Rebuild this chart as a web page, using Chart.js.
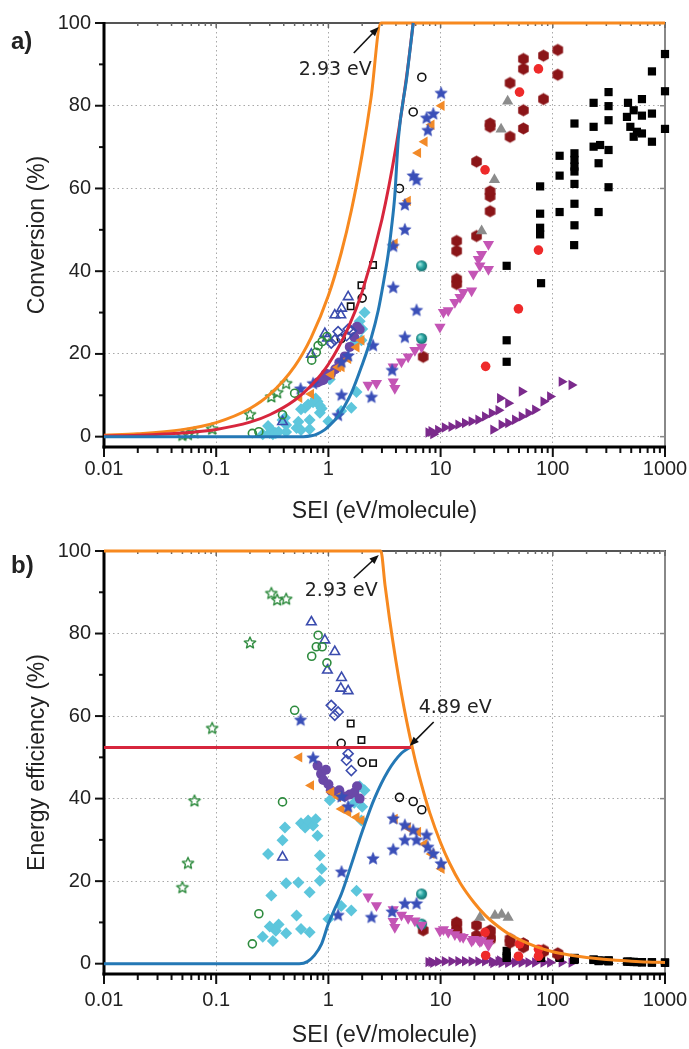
<!DOCTYPE html>
<html><head><meta charset="utf-8">
<script src="https://cdn.jsdelivr.net/npm/chart.js@4.4.1/dist/chart.umd.min.js"></script>
<style>
body{margin:0;background:#fff;width:689px;height:1049px;overflow:hidden;position:relative}
canvas{position:absolute;left:0}
#c1{top:0}#c2{top:530px}
</style></head><body>
<canvas id="c1" width="689" height="530"></canvas>
<canvas id="c2" width="689" height="519"></canvas>
<script>
// ---------- axes ----------
const xTicks = [0.01, 0.1, 1, 10, 100, 1000];
const xTickLabels = ['0.01', '0.1', '1', '10', '100', '1000'];
const yTicks = [0, 20, 40, 60, 80, 100];
const xTitle = 'SEI (eV/molecule)';
const yTitleTop = 'Conversion (%)';
const yTitleBottom = 'Energy efficiency (%)';

// ---------- theoretical curves ----------
const orangeConvSEI = [0.01,0.02,0.05,0.1,0.2,0.3,0.5,0.7,1,1.3,1.6,2,2.4,2.93,1000];
const orangeConv    = [0.34,0.68,1.7,3.4,6.8,10.2,17,23.9,34.1,44.4,54.6,68.3,81.9,100,100];
const redConvSEI    = [0.01,0.02,0.05,0.1,0.2,0.3,0.5,0.7,1,1.5,2,3,4,5,5.7];
const redConv       = [0.18,0.35,0.88,1.75,3.5,5.3,8.8,12.3,17.5,26.3,35,52.5,70,87.5,100];
const blueConvSEI   = [0.01,0.3,0.6,0.705,0.8,0.93,1.05,1.22,1.4,1.6,1.97,2.42,2.78,3.08,3.41,3.65,3.9,4.2,5.0,5.7];
const blueConv      = [0,0,0,0.2,0.7,1.7,3,4.9,7.5,10.5,16.9,24.1,30.5,36.9,44.1,50.5,58,72,87,100];

const orangeEffSEI  = [0.01,2.93,3.2,3.5,4,4.5,5,5.5,6,7,8,10,12,15,20,25,30,40,50,70,100,150,200,300,500,700,1000];
const orangeEff     = [100,100,91.6,83.7,73.3,65.1,58.6,53.3,48.8,41.9,36.6,29.3,24.4,19.5,14.7,11.7,9.8,7.3,5.9,4.2,2.9,2,1.5,1,0.6,0.4,0.3];
const redEffSEI     = [0.01,5.5];
const redEff        = [52.4,52.4];
const blueEffSEI    = [0.01,0.3,0.55,0.65,0.75,0.87,1,1.15,1.31,1.6,1.97,2.57,3.4,4.47,5.3];
const blueEff       = [0,0,0,0.5,2,4.8,9.7,13.5,17,24,31.5,40,46.7,51,52.4];

// ---------- experimental data ----------
const greenStarSEI  = [0.05,0.056,0.064,0.092,0.2,0.31,0.35,0.42];
const greenStarConv = [0.3,0.5,0.9,1.8,5.3,9.6,10.6,12.8];
const greenStarEff  = [18.4,24.3,39.4,57,77.7,89.7,88.1,88.3];

const greenCircSEI  = [0.21,0.24,0.39,0.5,0.71,0.78,0.81,0.88,0.97];
const greenCircConv = [0.8,1.2,5.3,10.5,18.5,20.4,22,23,24.2];
const greenCircEff  = [4.8,12.1,39.2,61.4,74.5,76.8,79.6,76.8,72.9];

const navyTriSEI  = [0.39,0.705,0.93,0.98,1.14,1.31,1.29,1.5];
const navyTriConv = [3.6,19.9,24.9,23.8,29.4,31,29.4,33.8];
const navyTriEff  = [25.8,82.8,78.4,71.1,75.6,69.3,66.7,66.1];

const navyDiaSEI  = [1.06,1.14,1.22,1.45,1.5,1.6];
const navyDiaConv = [22.6,23.4,25.4,24.4,26,25.6];
const navyDiaEff  = [62.6,60.2,61,49.3,50.9,46.8];

const blackCircSEI  = [1.3,2.0,4.3,5.7,6.8];
const blackCircConv = [23.7,33.5,60,78.5,86.9];
const blackCircEff  = [53.4,48.8,40.3,39.3,37.3];

const blackOpenSqSEI  = [1.58,1.97,2.5];
const blackOpenSqConv = [31.5,36.6,41.5];
const blackOpenSqEff  = [58.2,54.2,48.6];

const cyanSEI  = [0.26,0.29,0.3,0.31,0.32,0.34,0.36,0.39,0.41,0.42,0.42,0.52,0.54,0.57,0.57,0.62,0.66,0.68,0.68,0.73,0.77,0.8,0.84,0.84,0.87,1.0,1.03,1.3,1.6,1.7,1.78,1.9,1.97,2.0,2.1];
const cyanConv = [0.6,2.6,0.9,1.7,0.6,0.9,1.2,4.0,4.6,2.8,1.1,2.1,3.6,6.6,1.6,7.0,7.8,4.0,1.8,8.3,9.2,8.5,5.8,7.5,6.8,3.7,13.9,6.2,7.0,22.6,10.8,27.9,23.3,26,30];
const cyanEff  = [6.5,26.6,9,16.5,5.5,8,9.5,29.9,33,19.5,7.4,11.7,19.7,34,8.4,33,34.7,17.3,7.6,33.5,35,31,20.1,26.2,23,10.8,39.6,14,12.9,39,17.7,43,34.7,38,42];

const starSEI  = [0.565,0.73,1.22,1.31,1.31,1.5,2.42,2.5,3.7,3.78,3.78,4.8,6.1,4.8,4.8,5.7,6.1,7.5,7.7,8.6,10.1];
const starConv = [11.5,12.8,5.1,10,18,19.5,9.5,22,16,36,46,24,30.5,50,56,63,62,77,74,78,83];
const starEff  = [59,49.8,11.7,22.2,40.4,38,11.2,25.4,12.5,27.6,35.1,14.5,14.5,29.9,33.5,32.3,29.9,31.1,28.2,26.6,24.2];

const orangeTriSEI  = [0.55,0.7,1.06,1.22,1.31,1.5,1.78,1.97,3.9,5.1,6.3,7.2,8.3,10.2];
const orangeTriConv = [9.4,10.3,15,16.8,16.8,18.8,21.6,23.3,46.7,57,68.6,71.3,75.4,80];
const orangeTriEff  = [50,43.2,41.6,40.4,37.5,36.7,35.5,34.7,35.1,33,31.9,29,26.6,23];

const purpleCircSEI  = [0.8,0.86,0.9,0.95,1.0,1.05,1.15,1.25,1.4,1.55,1.7,1.9,1.8];
const purpleCircConv = [13.1,13.5,13.7,15.2,14.8,15.1,16.3,17.9,19.4,21.7,24.1,25.9,26.6];
const purpleCircEff  = [48,46,44.5,47,43.5,42,41.5,42,40.5,41,41.5,40,43];

const magentaSEI  = [2.26,2.68,3.78,3.91,3.78,4.48,5.14,5.9,6.77,9.87,10.6,11.7,13.4,14.9,15.9,18.9,19.6,22.4,26.7,21.7,26.7,23.2];
const magentaConv = [12.5,12.9,13.3,11.7,16.9,18.1,19.3,20.9,21.7,26.5,30.1,30.5,32.5,33.7,34.9,35.3,39.3,41.3,40.5,42.9,46.5,44.1];
const magentaEff  = [16.2,14.1,10.3,8.8,13.1,11.8,11,10.4,9.4,7.9,8.3,7.6,7.1,6.6,6.4,5.5,5.9,5.4,4.4,5.8,5.1,5.6];

const tealSEI  = [6.77,6.77];
const tealConv = [41.3,23.7];
const tealEff  = [16.9,9.6];

const darkRedSEI  = [7.0,13.9,13.9,13.9,13.9,20.9,20.9,27.6,27.6,27.6,27.6,27.6,41.6,41.6,54.7,54.7,54.7,54.7,82.6,82.6,110.8,110.8];
const darkRedConv = [19.3,47.3,44.9,38.1,36.9,48.5,66.5,54.5,58.1,59.3,75.7,74.9,72.5,85.5,74.5,78.9,88.9,91.3,81.6,92.1,87.5,93.5];
const darkRedEff  = [8.1,10,9.5,8,7.8,6.8,9.3,5.8,6.2,6.3,8,7.9,5.1,6,4,4.2,4.8,4.9,2.9,3.3,2.3,2.5];

const redDotSEI  = [24.9,25.2,49.4,50.5,74.5,74.5];
const redDotConv = [64.5,17,30.9,83.3,88.9,45.1];
const redDotEff  = [7.6,2.0,1.8,4.8,3.5,1.8];

const grayTriSEI     = [23.2,30.2,34.6,39.6];
const grayTriConv    = [49.7,62.1,74.3,81.1];
const grayTriEffSEI  = [22.4,30.5,35,40];
const grayTriEff     = [11.2,11.7,11.9,11.2];

const blackSqSEI  = [38.8,38.8,38.8,77.1,77.1,77.1,77.1,78.6,115,115,115,156,156,156,156,156,156,156,156,155,231,231,231,256,256,264,314,314,314,314,314,458,468,491,526,526,562,623,623,623,765,765,765,1000,1000,1000];
const blackSqConv = [41.3,23.3,18.1,60.5,53.9,50.5,48.9,37.1,67.9,63.1,54.3,75.7,68.5,66.9,65.3,64.1,61.1,56.3,51.1,46.3,80.7,74.9,70.1,66.1,54.3,70.5,83.3,79.9,76.5,69.3,60.3,77.3,80.7,74.9,78.9,72.5,73.7,81.6,77.6,73.3,88.3,78.1,71.3,92.5,83.5,74.4];
const blackSqEff  = [3.1,1.8,1.4,2.3,2.0,1.9,1.9,1.4,1.7,1.6,1.4,1.4,1.3,1.3,1.2,1.2,1.1,1.1,1.0,0.9,1.0,0.95,0.9,0.76,0.62,0.78,0.78,0.75,0.71,0.65,0.56,0.49,0.51,0.45,0.44,0.4,0.38,0.38,0.36,0.34,0.34,0.3,0.27,0.27,0.24,0.22];

const purpleTriSEI  = [7.8,8.3,8.6,9.5,10.9,12.5,14.4,16.5,18.9,21.7,24.9,28.6,32.8,33.9,40.1,52.9,29.5,35,40.1,46.1,52.9,60.7,69.6,82.6,94.6,120,147];
const purpleTriConv = [1.0,1.3,0.6,1.6,2.2,2.4,2.9,3.3,3.7,4.1,4.9,5.7,6.4,9.3,8.1,10.9,1.7,2.9,3.3,4.1,4.9,5.7,6.5,8.5,9.7,13.3,12.5];
const purpleTriEff  = [0.38,0.46,0.2,0.49,0.59,0.56,0.59,0.59,0.57,0.55,0.58,0.58,0.57,0.8,0.59,0.6,0.17,0.24,0.24,0.26,0.27,0.28,0.27,0.3,0.3,0.32,0.25];

// ---------- styling helpers ----------
Chart.defaults.font.family = '"Liberation Sans", Arial, sans-serif';
Chart.defaults.color = '#222';

function polyCanvas(n, r, inner, fill, stroke, lw, rot) {
  const s = Math.ceil(2 * r + lw + 2);
  const c = document.createElement('canvas'); c.width = c.height = s;
  const g = c.getContext('2d'); g.translate(s / 2, s / 2); g.beginPath();
  const m = inner ? 2 * n : n;
  for (let i = 0; i < m; i++) {
    const rr = inner && i % 2 ? r * inner : r;
    const a = rot + i * 2 * Math.PI / m;
    g.lineTo(rr * Math.cos(a), rr * Math.sin(a));
  }
  g.closePath();
  if (fill) { g.fillStyle = fill; g.fill(); }
  if (stroke) { g.strokeStyle = stroke; g.lineWidth = lw; g.lineJoin = 'round'; g.stroke(); }
  return c;
}
function sphereCanvas(r) {
  const s = Math.ceil(2 * r + 2);
  const c = document.createElement('canvas'); c.width = c.height = s;
  const g = c.getContext('2d');
  const gr = g.createRadialGradient(s/2 - r*0.35, s/2 - r*0.35, r*0.1, s/2, s/2, r);
  gr.addColorStop(0, '#9fe6e0'); gr.addColorStop(0.5, '#2aa5a2'); gr.addColorStop(1, '#14706f');
  g.fillStyle = gr; g.beginPath(); g.arc(s/2, s/2, r, 0, Math.PI*2); g.fill();
  return c;
}
const openStar  = polyCanvas(5, 6, 0.45, null, '#2e8b3e', 1.4, -Math.PI/2);
const fillStar  = polyCanvas(5, 6.5, 0.45, '#3a4fb8', '#3a4fb8', 0.6, -Math.PI/2);
const hexagon   = polyCanvas(6, 5.8, 0, '#8b1518', '#8b1518', 0.5, Math.PI/2);
const sphere    = sphereCanvas(5.5);

const TR = 'rgba(0,0,0,0)';
const styles = {
  greenStar:  {pointStyle: openStar, pointRadius: 6},
  greenCirc:  {pointStyle: 'circle', pointRadius: 4, backgroundColor: TR, borderColor: '#2e8b3e', borderWidth: 1.6},
  navyTri:    {pointStyle: 'triangle', pointRadius: 5.5, backgroundColor: TR, borderColor: '#3b4cae', borderWidth: 1.6},
  navyDia:    {pointStyle: 'rectRot', pointRadius: 5, backgroundColor: TR, borderColor: '#3b4cae', borderWidth: 1.6},
  blackCirc:  {pointStyle: 'circle', pointRadius: 4, backgroundColor: TR, borderColor: '#111', borderWidth: 1.6},
  blackOpenSq:{pointStyle: 'rect', pointRadius: 4.5, backgroundColor: TR, borderColor: '#111', borderWidth: 1.6},
  cyan:       {pointStyle: 'rectRot', pointRadius: 6, backgroundColor: '#5dc6dc', borderColor: '#5dc6dc', borderWidth: 0},
  star:       {pointStyle: fillStar, pointRadius: 6},
  orangeTri:  {pointStyle: 'triangle', pointRotation: 270, pointRadius: 6, backgroundColor: '#f28a28', borderColor: '#f28a28', borderWidth: 0},
  purpleCirc: {pointStyle: 'circle', pointRadius: 5, backgroundColor: '#6a48a8', borderColor: '#6a48a8', borderWidth: 0},
  magenta:    {pointStyle: 'triangle', pointRotation: 180, pointRadius: 6.5, backgroundColor: '#c455b5', borderColor: '#c455b5', borderWidth: 0},
  teal:       {pointStyle: sphere, pointRadius: 5.5},
  darkRed:    {pointStyle: hexagon, pointRadius: 6},
  redDot:     {pointStyle: 'circle', pointRadius: 4.8, backgroundColor: '#ee2a2a', borderColor: '#ee2a2a', borderWidth: 0},
  grayTri:    {pointStyle: 'triangle', pointRadius: 6.5, backgroundColor: '#8c8c8c', borderColor: '#8c8c8c', borderWidth: 0},
  blackSq:    {pointStyle: 'rect', pointRadius: 5.8, backgroundColor: '#000', borderColor: '#000', borderWidth: 0},
  purpleTri:  {pointStyle: 'triangle', pointRotation: 90, pointRadius: 6, backgroundColor: '#7b2a8c', borderColor: '#7b2a8c', borderWidth: 0}
};

function pts(xs, ys) { return xs.map((v, i) => ({x: v, y: ys[i]})); }
function sc(label, xs, ys, st) { return Object.assign({label, data: pts(xs, ys), showLine: false, clip: false, pointHoverRadius: 0}, st); }
function curve(label, xs, ys, color) {
  return {label, data: pts(xs, ys), showLine: true, borderColor: color, backgroundColor: color, borderWidth: 3,
          pointRadius: 0, cubicInterpolationMode: 'monotone', clip: false, fill: false};
}

function line(ctx, x1, y1, x2, y2) { ctx.beginPath(); ctx.moveTo(x1, y1); ctx.lineTo(x2, y2); ctx.stroke(); }
function arrow(ctx, x1, y1, x2, y2) {
  ctx.save(); ctx.strokeStyle = '#111'; ctx.fillStyle = '#111'; ctx.lineWidth = 1.6;
  const a = Math.atan2(y2 - y1, x2 - x1), hl = 10;
  line(ctx, x1, y1, x2 - Math.cos(a) * hl * 0.7, y2 - Math.sin(a) * hl * 0.7);
  ctx.beginPath(); ctx.moveTo(x2, y2);
  ctx.lineTo(x2 - hl * Math.cos(a - 0.38), y2 - hl * Math.sin(a - 0.38));
  ctx.lineTo(x2 - hl * Math.cos(a + 0.38), y2 - hl * Math.sin(a + 0.38));
  ctx.closePath(); ctx.fill(); ctx.restore();
}

const framePlugin = {
  id: 'frame',
  beforeDatasetsDraw(chart) {
    const {ctx, chartArea: a, scales: {x, y}} = chart;
    ctx.save(); ctx.lineCap = 'butt';
    ctx.strokeStyle = '#555'; ctx.lineWidth = 2; line(ctx, a.left, a.top, a.right + 1, a.top);
    ctx.strokeStyle = '#888'; line(ctx, a.right, a.top, a.right, a.bottom);
    for (let i = 0; i < xTicks.length; i++) {
      for (let k = 1; k <= 9; k++) {
        if (i === xTicks.length - 1 && k > 1) break;
        const px = x.getPixelForValue(xTicks[i] * k), major = k === 1;
        ctx.strokeStyle = '#111'; ctx.lineWidth = 2;
        line(ctx, px, a.bottom, px, a.bottom + (major ? 10 : 6));
        ctx.strokeStyle = '#666'; ctx.lineWidth = 1.5;
        line(ctx, px, a.top, px, a.top + (major ? 5 : 3));
      }
    }
    for (let v = 0; v <= 100; v += 10) {
      const py = y.getPixelForValue(v), major = v % 20 === 0;
      ctx.strokeStyle = '#111'; ctx.lineWidth = 2;
      line(ctx, a.left - (major ? 9 : 5), py, a.left, py);
      if (major) { ctx.strokeStyle = '#888'; ctx.lineWidth = 1.5; line(ctx, a.right - 5, py, a.right, py); }
    }
    ctx.strokeStyle = '#000'; ctx.lineWidth = 3;
    line(ctx, a.left, a.top - 1, a.left, a.bottom + 1.5);
    line(ctx, a.left - 1.5, a.bottom, a.right + 1, a.bottom);
    ctx.restore();
  }
};

function scalesCfg(yTitle, areaBottomToCanvas, tickPad, xTitlePadBottom) {
  return {
    x: {
      type: 'logarithmic', min: 0.01, max: 1000,
      afterBuildTicks: s => { s.ticks = xTicks.map(v => ({value: v})); },
      afterFit: s => { s.height = areaBottomToCanvas; s.paddingLeft = 0; s.paddingRight = 0; },
      ticks: {autoSkip: false, maxRotation: 0, padding: tickPad, font: {size: 20}, color: '#222',
              callback: (v, i) => xTickLabels[i]},
      grid: {color: c => (c.tick && (c.tick.value === 0.01 || c.tick.value === 1000)) ? TR : '#a8a8a8',
             lineWidth: 1, drawTicks: false},
      border: {display: false, dash: [1.5, 3]},
      title: {display: true, text: xTitle, font: {size: 23}, color: '#222', padding: {top: 0, bottom: xTitlePadBottom}}
    },
    y: {
      type: 'linear', min: -2.5, max: 100,
      afterBuildTicks: s => { s.ticks = yTicks.map(v => ({value: v})); },
      afterFit: s => { s.width = 104; s.paddingTop = 0; s.paddingBottom = 0; },
      ticks: {padding: 13, font: {size: 20}, color: '#222'},
      grid: {color: c => (c.tick && c.tick.value === 100) ? TR : '#a8a8a8', lineWidth: 1, drawTicks: false},
      border: {display: false, dash: [1.5, 3]},
      title: {display: true, text: yTitle, font: {size: 23}, color: '#222', padding: {top: 24, bottom: 0}}
    }
  };
}

function baseOptions(yTitle, padTop, xh, tickPad, xTitlePad) {
  return {
    responsive: false, animation: false, devicePixelRatio: 1,
    layout: {padding: {left: 0, right: 24, top: padTop, bottom: 0}},
    plugins: {legend: {display: false}, tooltip: {enabled: false}},
    scales: scalesCfg(yTitle, xh, tickPad, xTitlePad)
  };
}

// ---------- panel a ----------
const annotA = {
  id: 'annotA',
  afterDatasetsDraw(chart) {
    const {ctx, scales: {x, y}} = chart;
    const tx = x.getPixelForValue(2.93) - 2, ty = y.getPixelForValue(100) + 4;
    arrow(ctx, tx - 25, ty + 26, tx, ty);
    ctx.save(); ctx.font = '19px "DejaVu Sans"'; ctx.fillStyle = '#222'; ctx.textAlign = 'right'; ctx.textBaseline = 'middle';
    ctx.fillText('2.93 eV', tx - 7, ty + 43);
    ctx.font = 'bold 24px "Liberation Sans", Arial'; ctx.textAlign = 'left';
    ctx.fillText('a)', 11, 42);
    ctx.restore();
  }
};

new Chart(document.getElementById('c1'), {
  type: 'scatter',
  data: {datasets: [
    curve('blue', blueConvSEI, blueConv, '#2478b5'),
    curve('red', redConvSEI, redConv, '#d7263d'),
    curve('orange', orangeConvSEI, orangeConv, '#f7891f'),
    sc('greenStar', greenStarSEI, greenStarConv, styles.greenStar),
    sc('greenCirc', greenCircSEI, greenCircConv, styles.greenCirc),
    sc('navyTri', navyTriSEI, navyTriConv, styles.navyTri),
    sc('navyDia', navyDiaSEI, navyDiaConv, styles.navyDia),
    sc('blackCirc', blackCircSEI, blackCircConv, styles.blackCirc),
    sc('blackOpenSq', blackOpenSqSEI, blackOpenSqConv, styles.blackOpenSq),
    sc('star', starSEI, starConv, styles.star),
    sc('orangeTri', orangeTriSEI, orangeTriConv, styles.orangeTri),
    sc('purpleCirc', purpleCircSEI, purpleCircConv, styles.purpleCirc),
    sc('cyan', cyanSEI, cyanConv, styles.cyan),
    sc('magenta', magentaSEI, magentaConv, styles.magenta),
    sc('teal', tealSEI, tealConv, styles.teal),
    sc('redDot', redDotSEI, redDotConv, styles.redDot),
    sc('grayTri', grayTriSEI, grayTriConv, styles.grayTri),
    sc('darkRed', darkRedSEI, darkRedConv, styles.darkRed),
    sc('blackSq', blackSqSEI, blackSqConv, styles.blackSq),
    sc('purpleTri', purpleTriSEI, purpleTriConv, styles.purpleTri)
  ]},
  options: baseOptions(yTitleTop, 23, 83, 10, 5),
  plugins: [framePlugin, annotA]
});

// ---------- panel b ----------
const annotB = {
  id: 'annotB',
  afterDatasetsDraw(chart) {
    const {ctx, scales: {x, y}} = chart;
    const tx = x.getPixelForValue(2.93) - 2, ty = y.getPixelForValue(100) + 4;
    arrow(ctx, tx - 25, ty + 23, tx, ty);
    const ux = x.getPixelForValue(5.3), uy = y.getPixelForValue(52.5) - 1;
    arrow(ctx, ux + 24, uy - 24, ux, uy);
    ctx.save(); ctx.font = '19px "DejaVu Sans"'; ctx.fillStyle = '#222'; ctx.textBaseline = 'middle';
    ctx.textAlign = 'right'; ctx.fillText('2.93 eV', tx - 1, ty + 36);
    ctx.textAlign = 'left'; ctx.fillText('4.89 eV', ux + 9, uy - 38);
    ctx.font = 'bold 24px "Liberation Sans", Arial';
    ctx.fillText('b)', 11, 36);
    ctx.restore();
  }
};

new Chart(document.getElementById('c2'), {
  type: 'scatter',
  data: {datasets: [
    curve('orange', orangeEffSEI, orangeEff, '#f7891f'),
    curve('red', redEffSEI, redEff, '#d7263d'),
    curve('blue', blueEffSEI, blueEff, '#2478b5'),
    sc('greenStar', greenStarSEI, greenStarEff, styles.greenStar),
    sc('greenCirc', greenCircSEI, greenCircEff, styles.greenCirc),
    sc('navyTri', navyTriSEI, navyTriEff, styles.navyTri),
    sc('navyDia', navyDiaSEI, navyDiaEff, styles.navyDia),
    sc('blackCirc', blackCircSEI, blackCircEff, styles.blackCirc),
    sc('blackOpenSq', blackOpenSqSEI, blackOpenSqEff, styles.blackOpenSq),
    sc('star', starSEI, starEff, styles.star),
    sc('orangeTri', orangeTriSEI, orangeTriEff, styles.orangeTri),
    sc('purpleCirc', purpleCircSEI, purpleCircEff, styles.purpleCirc),
    sc('cyan', cyanSEI, cyanEff, styles.cyan),
    sc('magenta', magentaSEI, magentaEff, styles.magenta),
    sc('teal', tealSEI, tealEff, styles.teal),
    sc('redDot', redDotSEI, redDotEff, styles.redDot),
    sc('grayTri', grayTriEffSEI, grayTriEff, styles.grayTri),
    sc('darkRed', darkRedSEI, darkRedEff, styles.darkRed),
    sc('blackSq', blackSqSEI, blackSqEff, styles.blackSq),
    sc('purpleTri', purpleTriSEI, purpleTriEff, styles.purpleTri)
  ]},
  options: baseOptions(yTitleBottom, 21, 75, 14, 0),
  plugins: [framePlugin, annotB]
});
</script>
</body></html>
